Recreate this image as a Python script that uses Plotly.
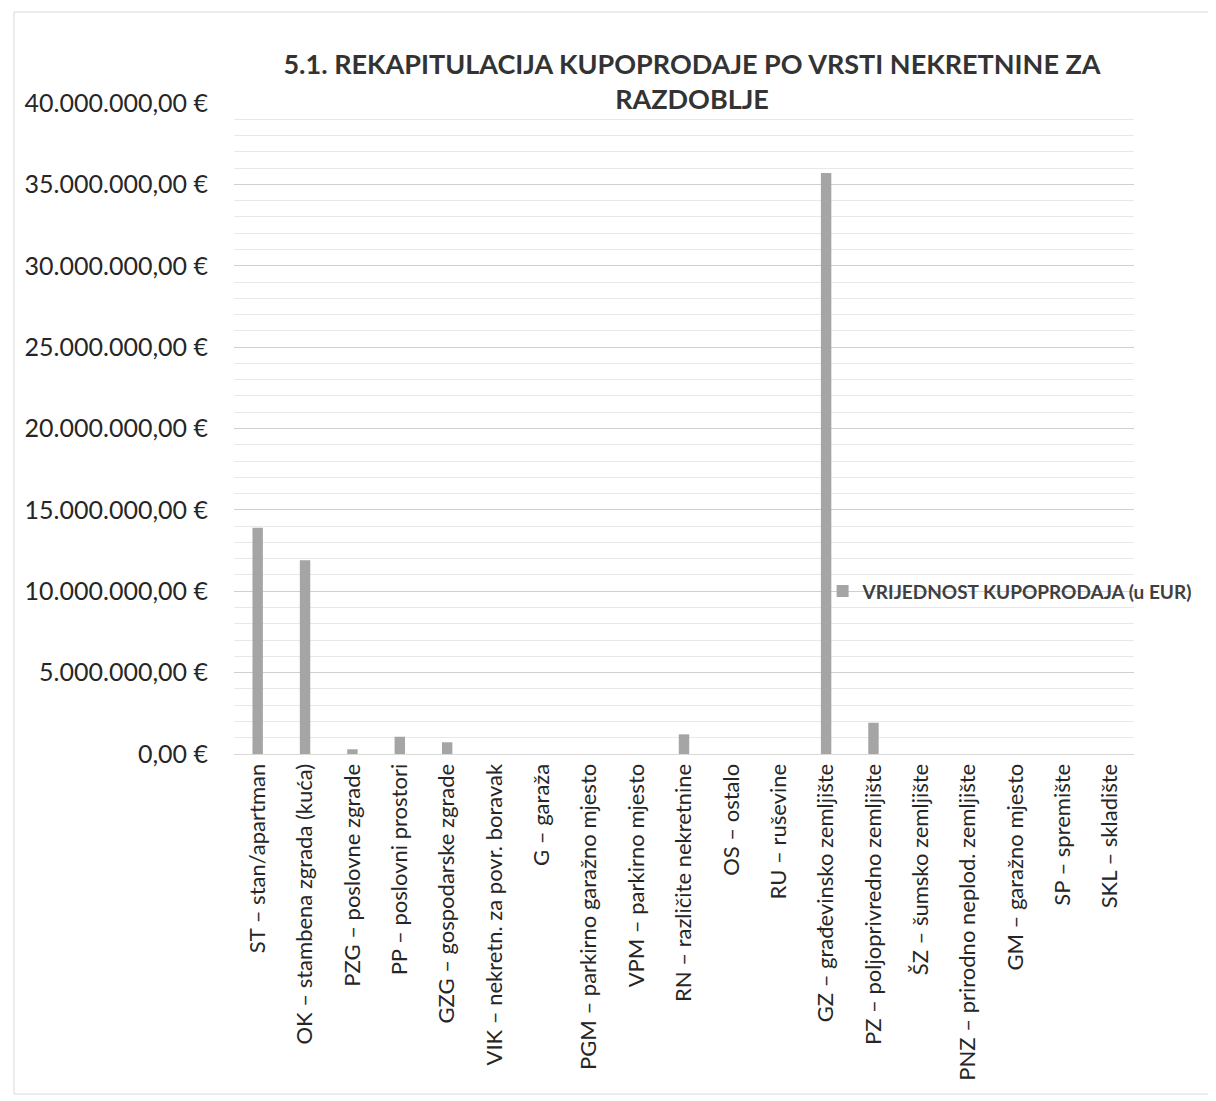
import plotly.graph_objects as go

categories = [
    "ST – stan/apartman",
    "OK – stambena zgrada (kuća)",
    "PZG – poslovne zgrade",
    "PP – poslovni prostori",
    "GZG – gospodarske zgrade",
    "VIK – nekretn. za povr. boravak",
    "G – garaža",
    "PGM – parkirno garažno mjesto",
    "VPM – parkirno mjesto",
    "RN – različite nekretnine",
    "OS – ostalo",
    "RU – ruševine",
    "GZ – građevinsko zemljište",
    "PZ – poljoprivredno zemljište",
    "ŠZ – šumsko zemljište",
    "PNZ – prirodno neplod. zemljište",
    "GM – garažno mjesto",
    "SP – spremište",
    "SKL – skladište",
]
values = [
    13900000, 11900000, 290000, 1060000, 720000, 0, 0, 0, 0, 1210000,
    0, 0, 35700000, 1920000, 0, 0, 0, 0, 0,
]
series_name = "VRIJEDNOST KUPOPRODAJA (u EUR)"
title_text = "5.1. REKAPITULACIJA KUPOPRODAJE PO VRSTI NEKRETNINE ZA<br>RAZDOBLJE"
y_tick_values = [0, 5000000, 10000000, 15000000, 20000000, 25000000, 30000000, 35000000, 40000000]


def fmt_eur(v):
    s = f"{v:,.2f}"
    s = s.replace(",", "X").replace(".", ",").replace("X", ".")
    return s + " €"


y_tick_text = [fmt_eur(v) for v in y_tick_values]

W, H = 1216, 1101
ML, MR, MT, MB = 226, 90, 95, 355
PW, PH = W - ML - MR, H - MT - MB

fig = go.Figure()
fig.add_trace(go.Bar(
    x=categories,
    y=values,
    name=series_name,
    marker=dict(color="#a5a5a5", line=dict(width=0)),
    width=0.22,
    showlegend=True,
))

fig.update_layout(
    width=W,
    height=H,
    paper_bgcolor="white",
    plot_bgcolor="white",
    font=dict(family="Lato, 'Open Sans', sans-serif", color="#262626"),
    margin=dict(l=ML, r=MR, t=MT, b=MB, autoexpand=False),
    title=dict(
        text=title_text,
        font=dict(size=27, family="Lato, sans-serif", color="#333333", weight="bold"),
        x=684 / W,
        xanchor="center",
        y=1 - 66 / H,
        yanchor="top",
    ),
    showlegend=True,
    legend=dict(
        x=0.654,
        y=0.25,
        xanchor="left",
        yanchor="middle",
        bgcolor="rgba(0,0,0,0)",
        font=dict(size=19, color="#404040", family="Lato, sans-serif", weight="bold"),
        itemwidth=30,
    ),
)

fig.update_xaxes(
    tickangle=-90,
    tickfont=dict(size=22, color="#262626"),
    showgrid=False,
    showline=True,
    linecolor="#d9d9d9",
    linewidth=1,
    ticks="",
)
fig.update_yaxes(
    range=[0, 40000000],
    tickvals=y_tick_values,
    ticktext=y_tick_text,
    tickfont=dict(size=25, color="#262626"),
    showgrid=True,
    gridcolor="#d0d0d0",
    gridwidth=1,
    minor=dict(dtick=1000000, showgrid=True, gridcolor="#e8e8e8", gridwidth=1),
    zeroline=False,
    showline=False,
    ticks="",
    ticklabelstandoff=25,
)

# light outer frame of the chart area
fig.add_shape(type="rect", xref="paper", yref="paper",
              x0=(6 - ML) / PW, x1=(W + 5 - ML) / PW,
              y0=(H - 1086 - MB) / PH, y1=(H - 4 - MB) / PH,
              line=dict(color="#d9d9d9", width=1), layer="below")

fig.write_html("out.html")
